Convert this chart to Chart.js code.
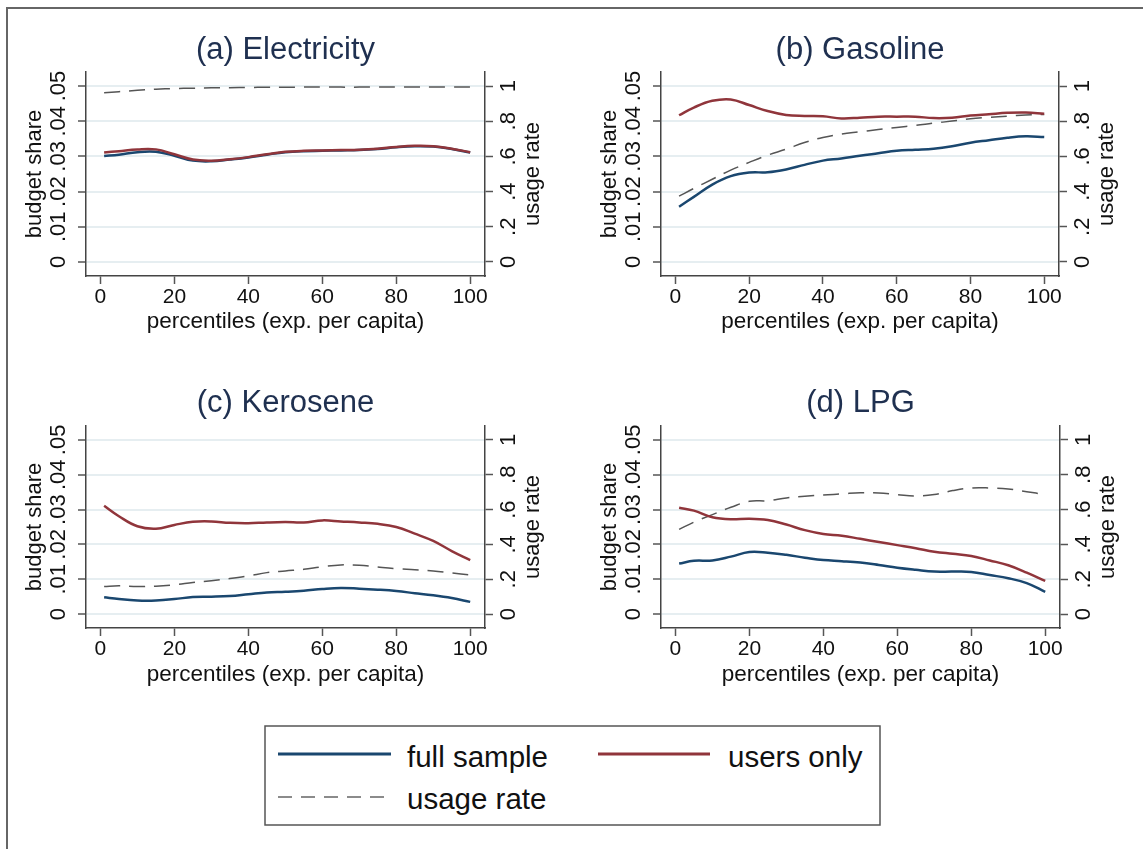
<!DOCTYPE html>
<html>
<head>
<meta charset="utf-8">
<script src="https://cdn.jsdelivr.net/npm/chart.js@4.4.1/dist/chart.umd.min.js"></script>
<style>
  body { margin: 0; background: #fff; width: 1143px; height: 849px; overflow: hidden; position: relative; }
  .frame { position: absolute; left: 6px; top: 7px; width: 1200px; height: 900px; border-top: 2px solid #666; border-left: 2px solid #666; }
  canvas { position: absolute; }
  #legend { position: absolute; left: 264px; top: 725px; }
  #legend text { font-family: "Liberation Sans", Arial, sans-serif; font-size: 29.5px; fill: #111; }
</style>
</head>
<body>
<div class="frame"></div>
<canvas id="cA" width="570" height="345" style="left:0;top:0"></canvas>
<canvas id="cB" width="573" height="345" style="left:570px;top:0"></canvas>
<canvas id="cC" width="570" height="355" style="left:0;top:345px"></canvas>
<canvas id="cD" width="573" height="355" style="left:570px;top:345px"></canvas>

<svg id="legend" width="618" height="102">
  <rect x="1" y="1" width="615" height="99" fill="#fff" stroke="#555" stroke-width="1.5"/>
  <line x1="14" y1="29" x2="127" y2="29" stroke="#1a476f" stroke-width="3"/>
  <text x="143" y="31" dominant-baseline="central">full sample</text>
  <line x1="334" y1="29" x2="446" y2="29" stroke="#90353b" stroke-width="3"/>
  <text x="464" y="31" dominant-baseline="central">users only</text>
  <line x1="14" y1="72" x2="127" y2="72" stroke="#666" stroke-width="1.5" stroke-dasharray="14 9"/>
  <text x="143" y="73" dominant-baseline="central">usage rate</text>
</svg>

<script>
// percentiles of expenditure per capita
const pct = [1, 5, 10, 15, 20, 25, 30, 35, 40, 45, 50, 55, 60, 65, 70, 75, 80, 85, 90, 95, 100];

const elecFull  = [0.0301, 0.0305, 0.0312, 0.0313, 0.0302, 0.0288, 0.0286, 0.0291, 0.0297, 0.0305, 0.0312, 0.0315, 0.0316, 0.0317, 0.0318, 0.0321, 0.0326, 0.0329, 0.0328, 0.0321, 0.0311];
const elecUsers = [0.0311, 0.0315, 0.0320, 0.0320, 0.0306, 0.0291, 0.0288, 0.0292, 0.0298, 0.0306, 0.0313, 0.0316, 0.0317, 0.0318, 0.0319, 0.0322, 0.0327, 0.0330, 0.0329, 0.0322, 0.0312];
const elecUsage = [0.962, 0.968, 0.976, 0.982, 0.986, 0.988, 0.990, 0.991, 0.992, 0.993, 0.993, 0.994, 0.994, 0.994, 0.994, 0.995, 0.995, 0.995, 0.995, 0.995, 0.995];

const gasFull  = [0.0157, 0.0185, 0.0220, 0.0244, 0.0254, 0.0255, 0.0263, 0.0276, 0.0288, 0.0294, 0.0302, 0.0309, 0.0316, 0.0319, 0.0322, 0.0329, 0.0339, 0.0346, 0.0353, 0.0357, 0.0355];
const gasUsers = [0.0417, 0.0439, 0.0458, 0.0462, 0.0446, 0.0429, 0.0418, 0.0415, 0.0414, 0.0408, 0.0410, 0.0413, 0.0413, 0.0413, 0.0409, 0.0410, 0.0416, 0.0420, 0.0424, 0.0425, 0.0421];
const gasUsage = [0.374, 0.418, 0.470, 0.522, 0.566, 0.607, 0.641, 0.679, 0.708, 0.727, 0.740, 0.753, 0.765, 0.776, 0.789, 0.801, 0.814, 0.822, 0.829, 0.835, 0.839];

const keroFull  = [0.0048, 0.0043, 0.0039, 0.0039, 0.0043, 0.0049, 0.0050, 0.0052, 0.0057, 0.0062, 0.0064, 0.0067, 0.0072, 0.0075, 0.0073, 0.0070, 0.0066, 0.0060, 0.0054, 0.0046, 0.0035];
const keroUsers = [0.0311, 0.0281, 0.0252, 0.0245, 0.0256, 0.0265, 0.0266, 0.0262, 0.0261, 0.0263, 0.0264, 0.0263, 0.0269, 0.0266, 0.0263, 0.0259, 0.0250, 0.0231, 0.0210, 0.0181, 0.0155];
const keroUsage = [0.158, 0.162, 0.158, 0.160, 0.168, 0.181, 0.192, 0.204, 0.219, 0.238, 0.248, 0.257, 0.272, 0.282, 0.280, 0.270, 0.261, 0.255, 0.248, 0.236, 0.225];

const lpgFull  = [0.0145, 0.0153, 0.0154, 0.0165, 0.0178, 0.0176, 0.0170, 0.0162, 0.0155, 0.0152, 0.0148, 0.0141, 0.0133, 0.0127, 0.0122, 0.0122, 0.0121, 0.0112, 0.0103, 0.0089, 0.0064];
const lpgUsers = [0.0305, 0.0297, 0.0278, 0.0272, 0.0274, 0.0270, 0.0257, 0.0241, 0.0230, 0.0225, 0.0216, 0.0207, 0.0198, 0.0189, 0.0179, 0.0173, 0.0167, 0.0154, 0.0140, 0.0119, 0.0095];
const lpgUsage = [0.486, 0.528, 0.571, 0.613, 0.648, 0.651, 0.667, 0.676, 0.684, 0.690, 0.697, 0.695, 0.686, 0.678, 0.686, 0.709, 0.724, 0.724, 0.718, 0.703, 0.686];

// axis ticks
const xTicks = [0, 20, 40, 60, 80, 100];
const shareTicks = [0, 0.01, 0.02, 0.03, 0.04, 0.05];
const shareLabels = ['0', '.01', '.02', '.03', '.04', '.05'];
const usageTicks = [0, 0.2, 0.4, 0.6, 0.8, 1];
const usageLabels = ['0', '.2', '.4', '.6', '.8', '1'];

const FONT = '"Liberation Sans", Arial, sans-serif';
const BLUE = '#1a476f', RED = '#90353b', DASH = '#555';

// rotated y tick labels and y titles (both sides read bottom to top)
const sideText = {
    id: 'sideText',
    afterDraw(chart) {
        const ctx = chart.ctx, a = chart.chartArea;
        const yL = chart.scales.y, yR = chart.scales.y2;
        const rot = (text, x, y, size) => {
            ctx.save();
            ctx.translate(x, y);
            ctx.rotate(-Math.PI / 2);
            ctx.font = size + 'px ' + FONT;
            ctx.fillStyle = '#111';
            ctx.textAlign = 'center';
            ctx.textBaseline = 'middle';
            ctx.fillText(text, 0, 0);
            ctx.restore();
        };
        shareTicks.forEach((v, i) => rot(shareLabels[i], a.left - 27, yL.getPixelForValue(v), 22));
        usageTicks.forEach((v, i) => rot(usageLabels[i], a.right + 24, yR.getPixelForValue(v), 22));
        rot('budget share', a.left - 51, (a.top + a.bottom) / 2, 22);
        rot('usage rate', a.right + 48, (a.top + a.bottom) / 2, 22);
    }
};

function pts(arr) {
    return pct.map((p, i) => ({ x: p, y: arr[i] }));
}

// box: canvas position; area: wanted plot area in page pixels
function makePanel(id, box, area, titleText, titleY, full, users, usage) {
    const leftW = area.L - box.left;
    const rightW = box.left + box.w - area.R;
    const xH = box.top + box.h - area.B;
    const titleLH = 31 * 1.2;
    const tTop = titleY - box.top - titleLH / 2;
    const tBot = area.T - box.top - tTop - titleLH;
    const xTitleLH = 22.5 * 1.2;
    const xTitleBot = (box.top + box.h) - area.xTitleY - xTitleLH / 2;

    new Chart(document.getElementById(id), {
        type: 'line',
        data: {
            datasets: [
                { label: 'users only', data: pts(users), borderColor: RED, borderWidth: 2.5, yAxisID: 'y' },
                { label: 'full sample', data: pts(full), borderColor: BLUE, borderWidth: 2.5, yAxisID: 'y' },
                { label: 'usage rate', data: pts(usage), borderColor: DASH, borderWidth: 1.5, borderDash: [16, 9], yAxisID: 'y2' }
            ]
        },
        options: {
            responsive: false,
            animation: false,
            events: [],
            layout: { padding: 0 },
            elements: { point: { radius: 0 }, line: { tension: 0.4, fill: false } },
            plugins: {
                legend: { display: false },
                tooltip: { enabled: false },
                title: {
                    display: true,
                    fullSize: false,
                    text: titleText,
                    color: '#1f3050',
                    font: { family: FONT, size: 31, weight: 'normal' },
                    padding: { top: tTop, bottom: tBot }
                }
            },
            scales: {
                x: {
                    type: 'linear',
                    min: -3.9,
                    max: 104,
                    afterBuildTicks: s => { s.ticks = xTicks.map(v => ({ value: v })); },
                    afterFit: s => { s.height = xH; },
                    grid: { drawOnChartArea: false, drawTicks: true, tickLength: 8, tickColor: '#555', tickWidth: 1.5 },
                    border: { display: true, color: '#444', width: 1.5 },
                    ticks: { font: { family: FONT, size: 21 }, color: '#111', padding: 1, maxRotation: 0 },
                    title: {
                        display: true,
                        text: 'percentiles (exp. per capita)',
                        color: '#111',
                        font: { family: FONT, size: 22.5 },
                        padding: { top: 0, bottom: xTitleBot }
                    }
                },
                y: {
                    position: 'left',
                    min: -0.004,
                    max: 0.054,
                    afterBuildTicks: s => { s.ticks = shareTicks.map(v => ({ value: v })); },
                    afterFit: s => { s.width = leftW; },
                    grid: { color: '#e6eef1', lineWidth: 2, tickLength: 8, tickColor: '#555', tickWidth: 1.5 },
                    border: { display: true, color: '#444', width: 1.5 },
                    ticks: { display: false }
                },
                y2: {
                    position: 'right',
                    min: -0.08,
                    max: 1.08,
                    afterBuildTicks: s => { s.ticks = usageTicks.map(v => ({ value: v })); },
                    afterFit: s => { s.width = rightW; },
                    grid: { drawOnChartArea: false, tickLength: 8, tickColor: '#555', tickWidth: 1.5 },
                    border: { display: true, color: '#444', width: 1.5 },
                    ticks: { display: false }
                }
            }
        },
        plugins: [sideText]
    });
}

makePanel('cA', { left: 0, top: 0, w: 570, h: 345 }, { L: 86, R: 485, T: 72, B: 276, xTitleY: 322 },
    '(a) Electricity', 50, elecFull, elecUsers, elecUsage);
makePanel('cB', { left: 570, top: 0, w: 573, h: 345 }, { L: 661, R: 1059, T: 72, B: 276, xTitleY: 322 },
    '(b) Gasoline', 50, gasFull, gasUsers, gasUsage);
makePanel('cC', { left: 0, top: 345, w: 570, h: 355 }, { L: 86, R: 485, T: 426, B: 628, xTitleY: 675 },
    '(c) Kerosene', 403, keroFull, keroUsers, keroUsage);
makePanel('cD', { left: 570, top: 345, w: 573, h: 355 }, { L: 661, R: 1060, T: 426, B: 628, xTitleY: 675 },
    '(d) LPG', 403, lpgFull, lpgUsers, lpgUsage);
</script>
</body>
</html>
